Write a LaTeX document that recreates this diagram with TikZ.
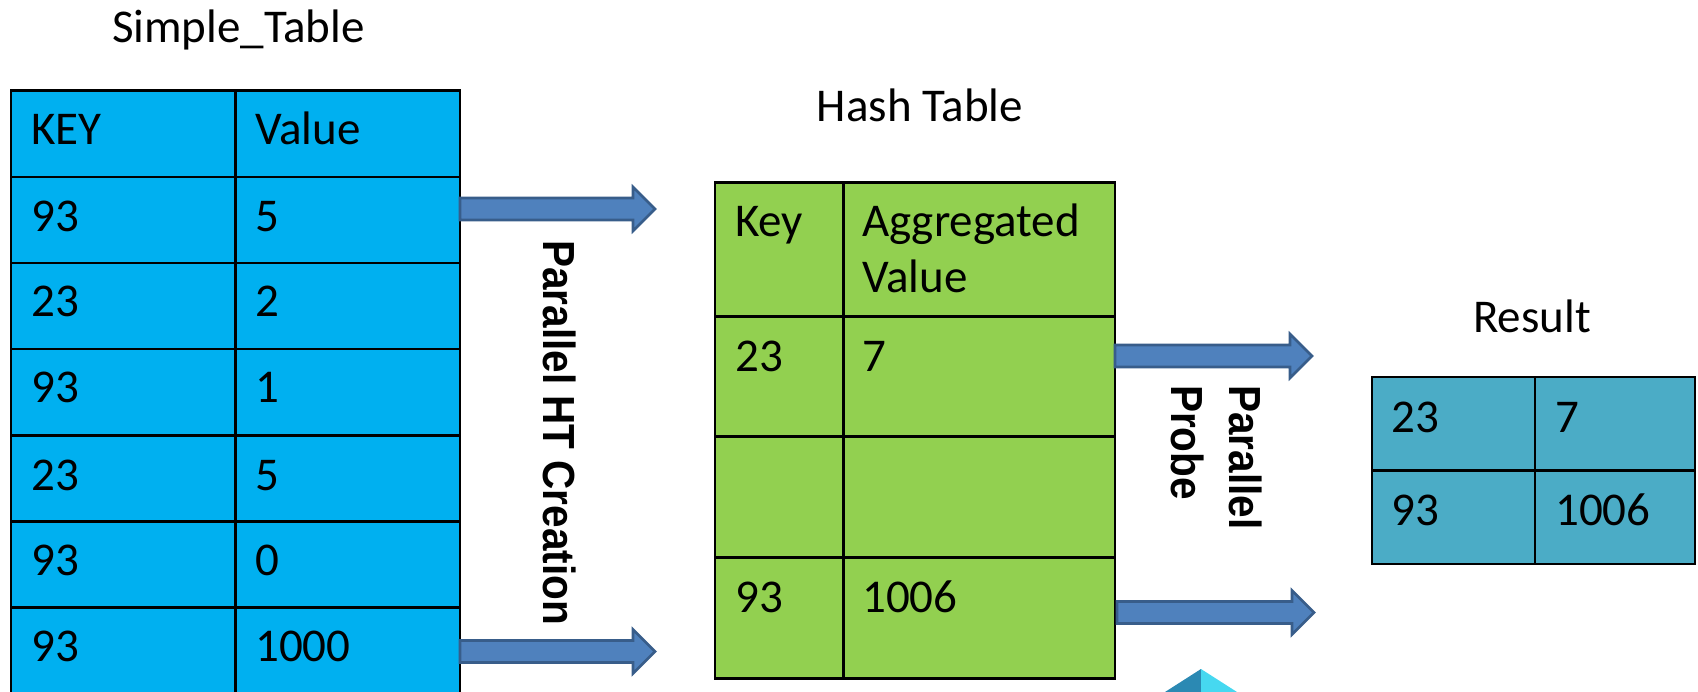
\documentclass[tikz,border=0pt]{standalone}
\usepackage{fontspec}
\setmainfont{Carlito}
\newfontfamily\lsans{Liberation Sans}[FakeStretch=0.9]
\definecolor{stblue}{HTML}{00B0F0}
\definecolor{htgreen}{HTML}{92D050}
\definecolor{rsteal}{HTML}{4BACC6}
\definecolor{arrowfill}{HTML}{4F81BD}
\definecolor{arrowline}{HTML}{385D8A}
\definecolor{pyrdark}{HTML}{2B89B3}
\definecolor{pyrlight}{HTML}{46D8F0}
\newcommand\blkarrow[2]{%
  \draw[blk] (#1) ++(0,-11) -- ++({#2-22},0) -- ++(0,-11) -- ++(22,22) -- ++(-22,22) -- ++(0,-11) -- ++({-(#2-22)},0) -- cycle;}
\begin{document}
\begin{tikzpicture}[x=1pt,y=-1pt,
  txt/.style={inner sep=0pt, anchor=base west, font=\fontsize{47}{56}\selectfont},
  ttl/.style={inner sep=0pt, anchor=base, font=\fontsize{47}{56}\selectfont},
  grid/.style={line width=2.6pt, draw=black},
  blk/.style={fill=arrowfill, draw=arrowline, line width=2.6pt, line join=miter},
  lbl/.style={inner sep=0pt, anchor=base west, rotate=-90, align=left,
    font=\lsans\bfseries\fontsize{45}{58}\selectfont}]
\useasboundingbox (0,0) rectangle (1698,692);

% ---------- Simple_Table ----------
\node[ttl] (sttitle) at (238.5,43) {Simple\_Table};
\fill[stblue] (11,90.7) rectangle (460,694);
\foreach \y in {176.85,263,349.15,435.3,521.45,607.6}
  \draw[grid] (11,\y) -- (460,\y);
\draw[grid] (235.5,90.7) -- (235.5,694);
\draw[grid] (11,90.7) rectangle (460,694);
\node[txt] (stk0) at (31,145) {KEY};
\node[txt] (stv0) at (255,145) {Value};
\node[txt] (stk1) at (31,232) {93};  \node[txt] (stv1) at (255,232) {5};
\node[txt] (stk2) at (31,317) {23};  \node[txt] (stv2) at (255,317) {2};
\node[txt] (stk3) at (31,403) {93};  \node[txt] (stv3) at (255,403) {1};
\node[txt] (stk4) at (31,490) {23};  \node[txt] (stv4) at (255,490) {5};
\node[txt] (stk5) at (31,575) {93};  \node[txt] (stv5) at (255,575) {0};
\node[txt] (stk6) at (31,661) {93};  \node[txt] (stv6) at (255,661) {1000};

% ---------- arrows from Simple_Table ----------
\coordinate (a1) at (460,209);
\coordinate (a2) at (460,651.5);
\blkarrow{a1}{195}
\blkarrow{a2}{195}
\node[lbl] (htc) at (543,240) {Parallel HT Creation};

% ---------- Hash Table ----------
\node[ttl] (httitle) at (920,122) {Hash Table};
\fill[htgreen] (715,182.7) rectangle (1115,678.3);
\foreach \y in {316.7,436.7,557.7}
  \draw[grid] (715,\y) -- (1115,\y);
\draw[grid] (843.5,182.7) -- (843.5,678.3);
\draw[grid] (715,182.7) rectangle (1115,678.3);
\node[txt] (htk0) at (735,237) {Key};
\node[txt, align=left] (htv0) at (862,293) {Aggregated\\Value};
\node[txt] (htk1) at (735,372) {23};  \node[txt] (htv1) at (862,372) {7};
\node[txt] (htk3) at (735,612) {93};  \node[txt] (htv3) at (862,612) {1006};

% ---------- arrows from Hash Table ----------
\coordinate (a3) at (1115,356);
\coordinate (a4) at (1117,612.5);
\blkarrow{a3}{197}
\blkarrow{a4}{197}
\node[lbl] (pp) at (1171,385) {Parallel\\Probe};

% ---------- Result ----------
\node[ttl] (rstitle) at (1532,333) {Result};
\fill[rsteal] (1372,377) rectangle (1695,564);
\draw[grid] (1372,470.5) -- (1695,470.5);
\draw[grid] (1535,377) -- (1535,564);
\draw[grid] (1372,377) rectangle (1695,564);
\node[txt] (rsk1) at (1391,432) {23};  \node[txt] (rsv1) at (1555,432) {7};
\node[txt] (rsk2) at (1391,525) {93};  \node[txt] (rsv2) at (1555,525) {1006};

% ---------- partly visible shape at bottom ----------
\fill[pyrdark] (1201,669) -- (1152.5,700) -- (1201,700) -- cycle;
\fill[pyrlight] (1201,669) -- (1249.5,700) -- (1201,700) -- cycle;
\end{tikzpicture}
\end{document}
